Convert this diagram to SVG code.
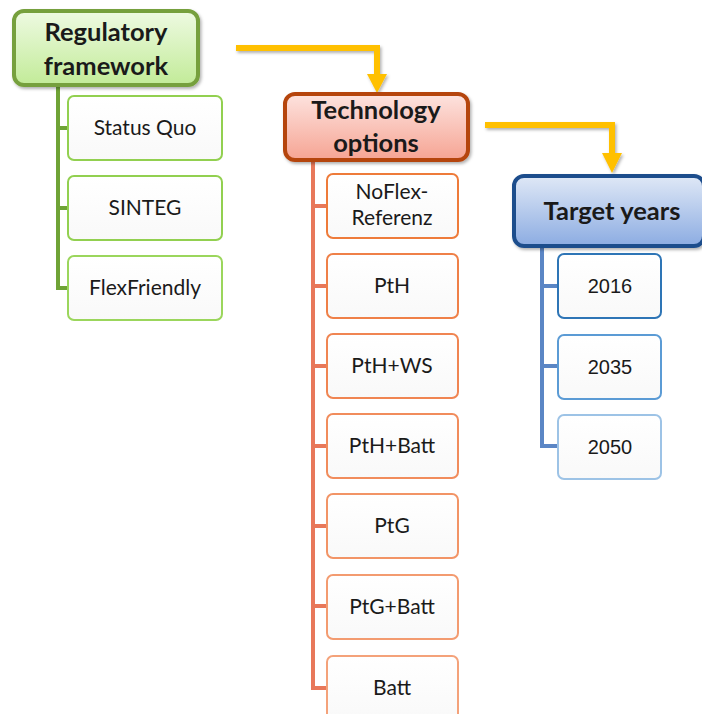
<svg xmlns="http://www.w3.org/2000/svg" width="702" height="714" viewBox="0 0 702 714">
<defs>
<linearGradient id="gGreen" x1="0" y1="0" x2="0" y2="1"><stop offset="0" stop-color="#eefae2"/><stop offset="1" stop-color="#c2eb98"/></linearGradient>
<linearGradient id="gRed" x1="0" y1="0" x2="0" y2="1"><stop offset="0" stop-color="#fde3df"/><stop offset="1" stop-color="#f6a493"/></linearGradient>
<linearGradient id="gBlue" x1="0" y1="0" x2="0" y2="1"><stop offset="0" stop-color="#dfe8f6"/><stop offset="1" stop-color="#8cace2"/></linearGradient>
<linearGradient id="gWhite" x1="0" y1="0" x2="0" y2="1"><stop offset="0" stop-color="#ffffff"/><stop offset="1" stop-color="#f9f9f9"/></linearGradient>
<filter id="sh" x="-10%" y="-10%" width="125%" height="130%"><feDropShadow dx="1.5" dy="2" stdDeviation="1.5" flood-color="#000" flood-opacity="0.3"/></filter>
</defs>
<style>
.title{font-family:Lato,"Open Sans",sans-serif;font-weight:bold;font-size:25.5px;fill:#1a1a1a;text-anchor:middle}
.lbl{font-family:Lato,"Open Sans",sans-serif;font-size:21px;fill:#1a1a1a;text-anchor:middle}
.num{font-family:"Liberation Sans",Arial,sans-serif;font-size:20px;fill:#1a1a1a;text-anchor:middle}
.child{fill:url(#gWhite);stroke-width:2}
.tree{fill:none;stroke-width:4}
.arrow{fill:none;stroke:#ffc000;stroke-width:6;stroke-linejoin:miter}
</style>
<g id="connectors">
<path class="tree" stroke="#6fa336" d="M58,86 V288 H68 M58,128 H68 M58,208 H68"/>
<path class="tree" stroke="#e8785a" d="M313,160 V688 H327 M313,206 H327 M313,286 H327 M313,366 H327 M313,446 H327 M313,526 H327 M313,606 H327"/>
<path class="tree" stroke="#5b86c5" d="M542,247 V446 H558 M542,286 H558 M542,366 H558"/>
<g filter="url(#sh)">
<path class="arrow" d="M236,48 H377 V76"/>
<path d="M367,74 L387,74 L377,93 Z" fill="#ffc000"/>
<path class="arrow" d="M485,125 H612 V155"/>
<path d="M602,153 L622,153 L612,173 Z" fill="#ffc000"/>
</g>
</g>
<g id="regulatory">
<rect x="14" y="11" width="184" height="74" rx="10" fill="url(#gGreen)" stroke="#76a03c" stroke-width="4" filter="url(#sh)"/>
<text class="title" x="106" y="41">Regulatory</text>
<text class="title" x="106" y="75">framework</text>
</g>
<g id="statusquo"><rect class="child" x="68" y="96" width="154" height="64" rx="6" stroke="#92d050"/><text class="lbl" x="145" y="135">Status Quo</text></g>
<g id="sinteg"><rect class="child" x="68" y="176" width="154" height="64" rx="6" stroke="#92d050"/><text class="lbl" x="145" y="215">SINTEG</text></g>
<g id="flexfriendly"><rect class="child" x="68" y="256" width="154" height="64" rx="6" stroke="#9bd65c"/><text class="lbl" x="145" y="295">FlexFriendly</text></g>
<g id="technology">
<rect x="285" y="94" width="183" height="66" rx="10" fill="url(#gRed)" stroke="#b5450f" stroke-width="4" filter="url(#sh)"/>
<text class="title" x="376" y="119">Technology</text>
<text class="title" x="376" y="152">options</text>
</g>
<g id="noflex"><rect class="child" x="327" y="174" width="131" height="64" rx="6" stroke="#ee7b3a"/><text class="lbl" x="392" y="199">NoFlex-</text><text class="lbl" x="392" y="225">Referenz</text></g>
<g id="pth"><rect class="child" x="327" y="254" width="131" height="64" rx="6" stroke="#ef8048"/><text class="lbl" x="392" y="293">PtH</text></g>
<g id="pthws"><rect class="child" x="327" y="334" width="131" height="64" rx="6" stroke="#f08552"/><text class="lbl" x="392" y="373">PtH+WS</text></g>
<g id="pthbatt"><rect class="child" x="327" y="414" width="131" height="64" rx="6" stroke="#f18c5c"/><text class="lbl" x="392" y="453">PtH+Batt</text></g>
<g id="ptg"><rect class="child" x="327" y="494" width="131" height="64" rx="6" stroke="#f29466"/><text class="lbl" x="392" y="533">PtG</text></g>
<g id="ptgbatt"><rect class="child" x="327" y="575" width="131" height="64" rx="6" stroke="#f39b70"/><text class="lbl" x="392" y="614">PtG+Batt</text></g>
<g id="batt"><rect class="child" x="327" y="656" width="131" height="64" rx="6" stroke="#f4a27a"/><text class="lbl" x="392" y="695">Batt</text></g>
<g id="targetyears">
<rect x="514" y="176" width="190" height="70" rx="10" fill="url(#gBlue)" stroke="#1f4e8c" stroke-width="4" filter="url(#sh)"/>
<text class="title" x="612" y="220">Target years</text>
</g>
<g id="y2016"><rect class="child" x="558" y="254" width="103" height="64" rx="6" stroke="#2e75b6"/><text class="num" x="610" y="293">2016</text></g>
<g id="y2035"><rect class="child" x="558" y="335" width="103" height="64" rx="6" stroke="#5b9bd5"/><text class="num" x="610" y="374">2035</text></g>
<g id="y2050"><rect class="child" x="558" y="415" width="103" height="64" rx="6" stroke="#9dc3e6"/><text class="num" x="610" y="454">2050</text></g>
</svg>
